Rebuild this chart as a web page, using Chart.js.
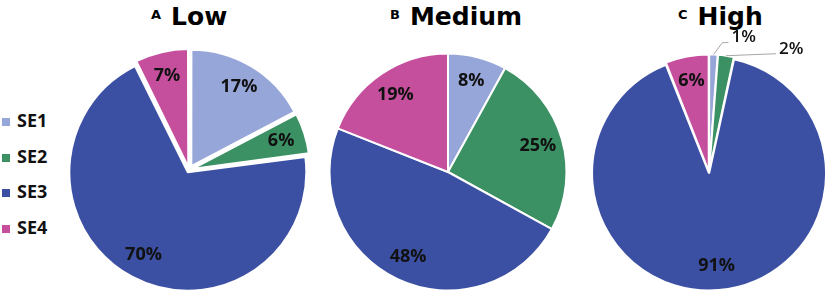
<!DOCTYPE html>
<html>
<head>
<meta charset="utf-8">
<script src="https://cdn.jsdelivr.net/npm/chart.js@4.4.1/dist/chart.umd.min.js"></script>
<style>
  html, body { margin: 0; padding: 0; background: #fff; overflow: hidden; }
  body { width: 827px; height: 292px; position: relative; }
  canvas { position: absolute; top: 0; }
  .title {
    position: absolute; top: 0; white-space: nowrap;
    font-family: "DejaVu Sans", sans-serif; font-weight: bold;
    font-size: 25px; line-height: 30px; color: #000;
  }
  .title .tag { font-size: 13px; vertical-align: 6px; margin-right: 10px; }
  #legend { position: absolute; left: 2px; top: 108px; }
  .item {
    height: 35.7px; line-height: 24px; white-space: nowrap;
    font-family: "Open Sans", sans-serif; font-weight: bold; font-size: 18px; color: #111;
  }
  .box { display: inline-block; width: 8px; height: 8px; margin-right: 7px; vertical-align: 1px; }
</style>
</head>
<body>
<div id="legend"></div>
<div class="title" style="left:151px"><span class="tag">A</span>Low</div>
<div class="title" style="left:390px"><span class="tag">B</span>Medium</div>
<div class="title" style="left:678px"><span class="tag">C</span>High</div>
<canvas id="pieA" width="260" height="292" style="left:59px"></canvas>
<canvas id="pieB" width="250" height="292" style="left:323px"></canvas>
<canvas id="pieC" width="236" height="292" style="left:591px"></canvas>
<script>
// categories and colours
const categories = ["SE1", "SE2", "SE3", "SE4"];
const colors = ["#97a6d8", "#3b9163", "#3c50a3", "#c54f9d"];

// share of each category (%), per panel
const lowValues = [17.3, 5.6, 69.8, 7.3];
const mediumValues = [8, 25, 48, 19];
const highValues = [1.2, 2.2, 90.6, 6.0];

// legend
const legend = document.getElementById("legend");
categories.forEach((name, i) => {
  const row = document.createElement("div");
  row.className = "item";
  row.innerHTML = '<span class="box" style="background:' + colors[i] + '"></span>' + name;
  legend.appendChild(row);
});

// draws the percent labels, with leader lines for the tiny slices
const pctLabels = {
  id: "pctLabels",
  afterDatasetsDraw(chart, args, opts) {
    const ctx = chart.ctx;
    const meta = chart.getDatasetMeta(0);
    const data = chart.data.datasets[0].data;
    const total = data.reduce((a, b) => a + b, 0);
    const explode = opts.explode || 0;
    ctx.save();
    ctx.fillStyle = "#111";
    meta.data.forEach((arc, i) => {
      const mid = (arc.startAngle + arc.endAngle) / 2;
      const cx = arc.x + Math.cos(mid) * explode;
      const cy = arc.y + Math.sin(mid) * explode;
      const text = Math.round((data[i] / total) * 100) + "%";
      const callout = opts.callouts && opts.callouts[i];
      if (callout) {
        const sx = cx + Math.cos(mid) * arc.outerRadius;
        const sy = cy + Math.sin(mid) * arc.outerRadius;
        const ex = sx + callout[0];
        const ey = sy + callout[1];
        const tail = callout[2] || 0;
        ctx.strokeStyle = "#a6a6a6";
        ctx.lineWidth = 1;
        ctx.beginPath();
        ctx.moveTo(sx, sy);
        ctx.lineTo(ex, ey);
        ctx.lineTo(ex + tail, ey);
        ctx.stroke();
        ctx.font = "600 17px 'Open Sans'";
        ctx.textAlign = "left";
        ctx.textBaseline = "middle";
        ctx.fillText(text, ex + tail + 3, ey - 5);
      } else {
        const r = arc.outerRadius * opts.ratio;
        ctx.font = "bold 18px 'Open Sans'";
        ctx.textAlign = "center";
        ctx.textBaseline = "middle";
        ctx.fillText(text, cx + Math.cos(mid) * r, cy + Math.sin(mid) * r);
      }
    });
    ctx.restore();
  }
};

// Chart.js moves an arc by offset/4 * (2 - sin(circumference)); undo that so
// every slice is pulled out by the same number of pixels
function offsetFor(explode) {
  return (c) => {
    const data = c.dataset.data;
    const total = data.reduce((a, b) => a + b, 0);
    const circ = (c.raw / total) * Math.PI * 2;
    const fix = 1 - Math.sin(Math.min(Math.PI, circ));
    return (explode * 4) / (1 + fix);
  };
}

function makePie(id, values, radius, padTop, explode, callouts) {
  return new Chart(document.getElementById(id), {
    type: "pie",
    data: {
      labels: categories,
      datasets: [
        {
          data: values,
          backgroundColor: colors,
          borderColor: "#fff",
          borderWidth: 2,
          offset: offsetFor(explode),
          hoverOffset: 0,
        },
      ],
    },
    options: {
      responsive: false,
      animation: false,
      radius: radius,
      layout: { padding: { top: padTop } },
      events: [],
      plugins: {
        legend: { display: false },
        tooltip: { enabled: false },
        pctLabels: { ratio: 0.79, explode: explode, callouts: callouts },
      },
    },
    plugins: [pctLabels],
  });
}

makePie("pieA", lowValues, 116, 48, 5, null);
makePie("pieB", mediumValues, 118.5, 52, 0, null);
makePie("pieC", highValues, 116, 53, 2, [[9, -12, 6], [50, -2]]);
</script>
</body>
</html>
